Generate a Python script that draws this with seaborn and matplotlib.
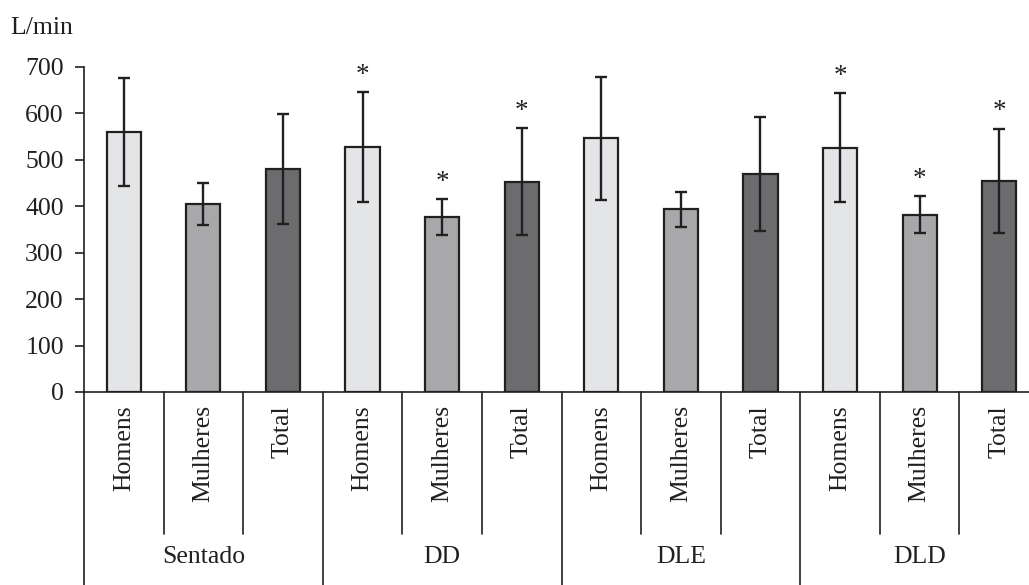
import matplotlib
matplotlib.use("Agg")
import matplotlib.pyplot as plt
import seaborn as sns
import pandas as pd

sns.set_theme(style="white")
plt.rcParams["font.family"] = ["Liberation Serif", "DejaVu Serif"]

# Data (L/min, mean and SD)
posicoes = ["Sentado", "DD", "DLE", "DLD"]
grupos = ["Homens", "Mulheres", "Total"]
medias = [560, 405, 480, 528, 376, 453, 546, 393, 470, 526, 382, 455]
desvios = [117, 46, 118, 118, 39, 115, 132, 38, 123, 117, 40, 112]
significativo = [False, False, False, True, True, True, False, False, False, True, True, True]

cores = {"Homens": "#e4e5e7", "Mulheres": "#a7a8ac", "Total": "#6b6c70"}
ink = "#231f20"

df = pd.DataFrame({
    "Posição": [p for p in posicoes for _ in grupos],
    "Grupo": grupos * len(posicoes),
    "Valor": medias,
    "DP": desvios,
})
df["chave"] = df["Posição"] + "-" + df["Grupo"]
ordem = df["chave"].tolist()

fig = plt.figure(figsize=(10.29, 5.85), dpi=100)
ax = fig.add_axes([84 / 1029, 0.33, 955 / 1029, 325 / 585])

sns.barplot(df, x="chave", y="Valor", hue="Grupo", order=ordem, hue_order=grupos,
            palette=cores, dodge=False, width=0.43, errorbar=None, legend=False,
            edgecolor=ink, linewidth=1.6, ax=ax)

ax.errorbar(range(len(df)), df["Valor"], yerr=df["DP"], fmt="none", ecolor=ink,
            elinewidth=1.7, capsize=4.2, capthick=1.7, zorder=5)

# Significance asterisks above the error bars
for i, (v, sd, sig) in enumerate(zip(medias, desvios, significativo)):
    if sig:
        ax.annotate("*", xy=(i, v + sd), xytext=(0, 7.5), textcoords="offset points",
                    ha="center", va="baseline", fontsize=19.5, color=ink)

ax.set_ylim(0, 700)
ax.set_xlim(-0.5, 11.5)
ax.set_yticks(range(0, 701, 100))
ax.set_xlabel("")
ax.set_ylabel("")
ax.set_xticks(range(len(df)))
ax.set_xticklabels(df["Grupo"], rotation=90, va="top", ha="center")
ax.tick_params(axis="x", length=0, pad=9.5, labelsize=18.5, labelcolor=ink)
ax.tick_params(axis="y", left=True, length=6.5, width=1.2, color=ink, pad=8,
               labelsize=18.5, labelcolor=ink)

sns.despine(ax=ax, top=True, right=True)
for s in ["left", "bottom"]:
    ax.spines[s].set_color(ink)
    ax.spines[s].set_linewidth(1.2)

# Category separators below the axis
tr = ax.get_xaxis_transform()
for k in range(len(df) + 1):
    x = k - 0.5
    fundo = -0.594 if k % 3 == 0 else -0.437
    ax.plot([x, x], [0, fundo], transform=tr, color=ink, lw=1.2, clip_on=False)

for g, p in enumerate(posicoes):
    ax.text(g * 3 + 1, -0.508, p, transform=tr, ha="center", va="center",
            fontsize=18.5, color=ink)

fig.text(10 / 1029, 1 - 28 / 585, "L/min", ha="left", va="center", fontsize=18.5, color=ink)

fig.savefig("out.png", dpi=100)
